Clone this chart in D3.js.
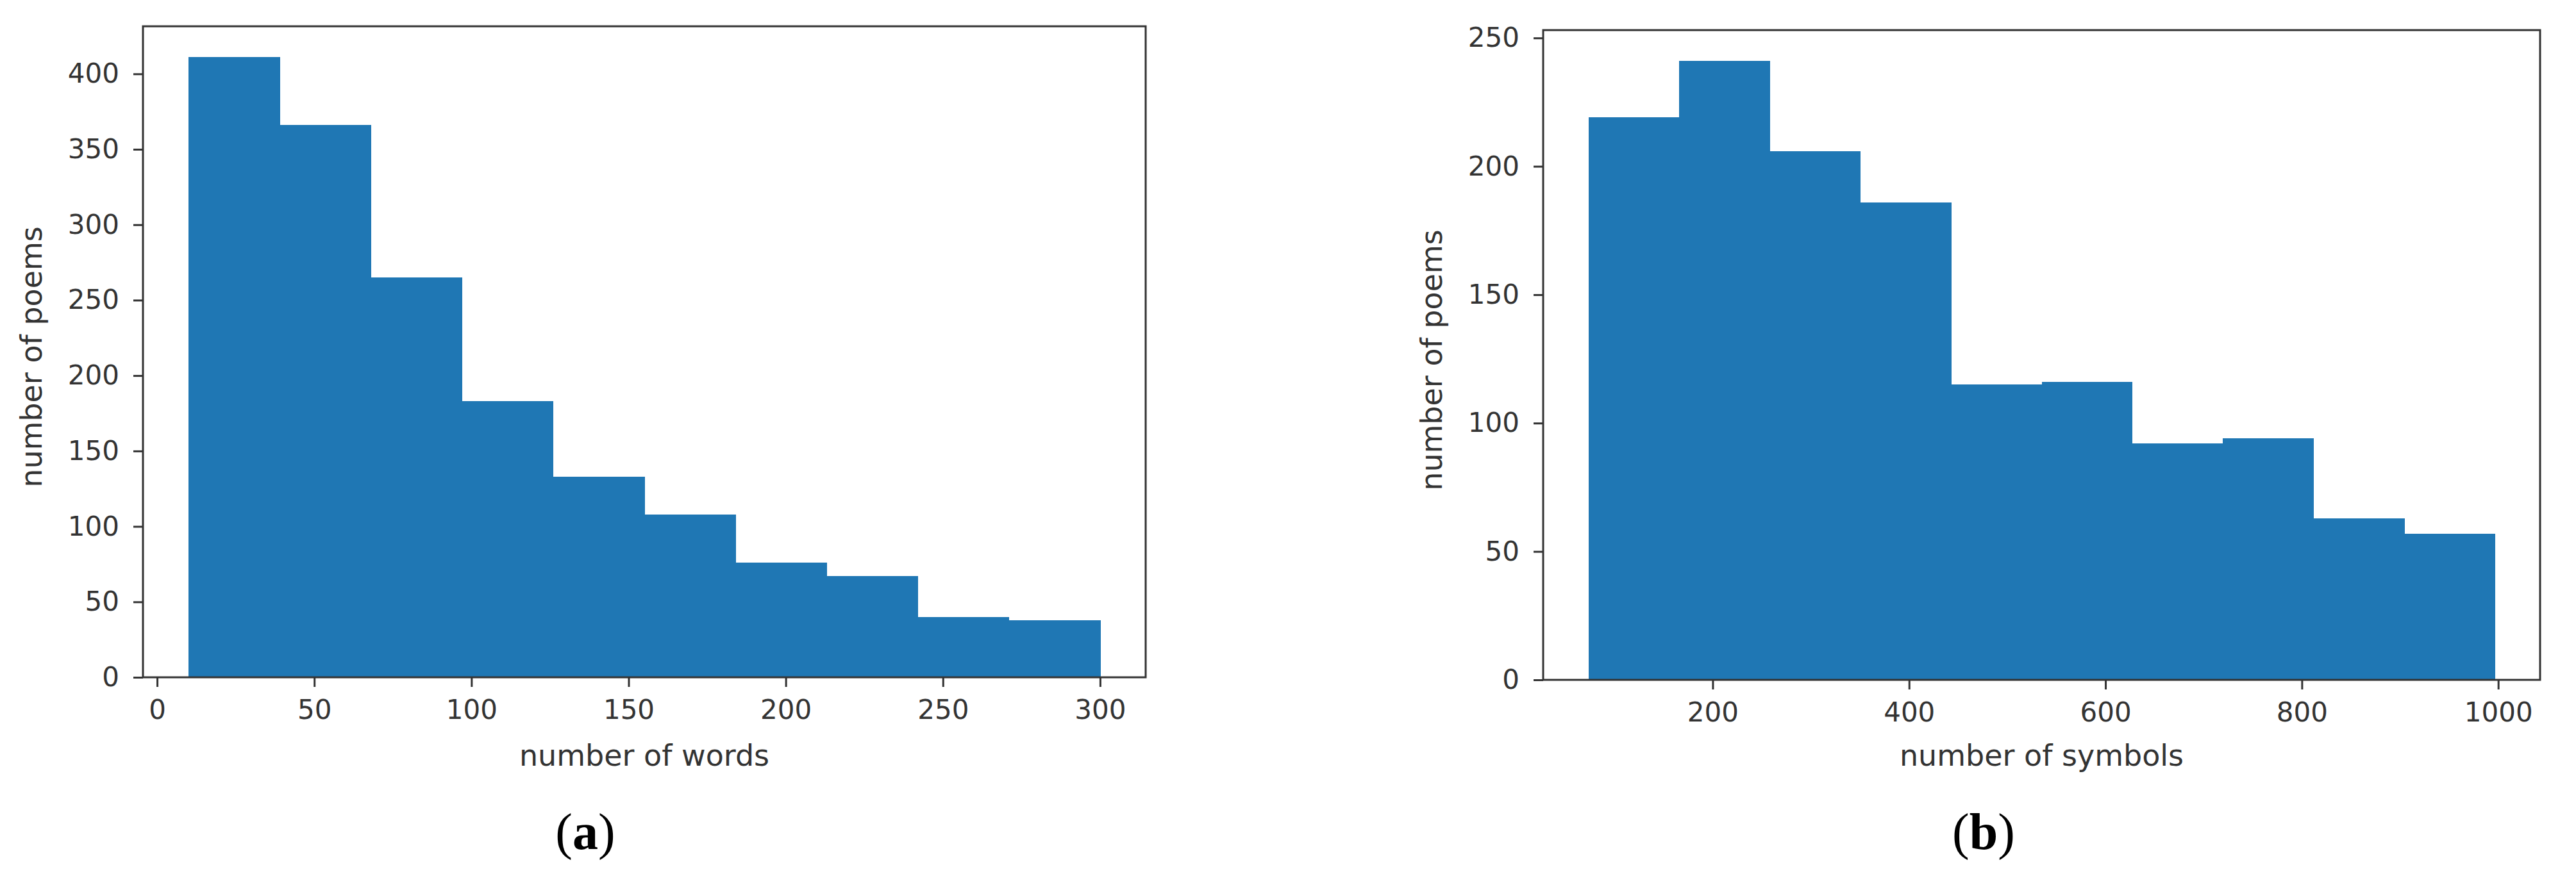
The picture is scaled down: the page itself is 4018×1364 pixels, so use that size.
<!DOCTYPE html>
<html><head><meta charset="utf-8">
<script src="https://cdn.jsdelivr.net/npm/d3@7"></script>
<style>html,body{margin:0;padding:0;background:#fff}svg{display:block}</style>
</head><body>
<svg id="chart" width="4018" height="1364"></svg>
<script>
// ---- data ----
const wordsEdges   = [10, 39, 68, 97, 126, 155, 184, 213, 242, 271, 300];
const wordsCounts  = [411, 366, 265, 183, 133, 108, 76, 67, 40, 38];
const symbolsEdges = [73.5, 165.8, 258.1, 350.4, 442.7, 535, 627.3, 719.6, 811.9, 904.2, 996.5];
const symbolsCounts= [219, 241, 206, 186, 115, 116, 92, 94, 63, 57];
const wordsXTicks   = [0, 50, 100, 150, 200, 250, 300];
const wordsYTicks   = [0, 50, 100, 150, 200, 250, 300, 350, 400];
const symbolsXTicks = [200, 400, 600, 800, 1000];
const symbolsYTicks = [0, 50, 100, 150, 200, 250];
const panelLabels = ["a", "b"];
const xLabels = ["number of words", "number of symbols"];
const yLabel = "number of poems";

const svg = d3.select("#chart");
const BAR = "#1f77b4", INK = "#333";
const fmt = d3.format("d");

function panel(cfg) {
  const {edges, counts, xTicks, yTicks, box, xLabel, label, labelX, yLabX} = cfg;
  const lo = edges[0], hi = edges[edges.length - 1], m = (hi - lo) * 0.05;
  const x = d3.scaleLinear().domain([lo - m, hi + m]).range([box.x0, box.x1]);
  const y = d3.scaleLinear().domain([0, d3.max(counts) * 1.05]).range([box.y1, box.y0]);
  const g = svg.append("g");
  g.selectAll("rect.bar").data(counts).join("rect")
    .attr("class", "bar")
    .attr("x", (d, i) => x(edges[i]))
    .attr("width", (d, i) => x(edges[i + 1]) - x(edges[i]) + 0.6)
    .attr("y", d => y(d))
    .attr("height", d => y(0) - y(d))
    .attr("fill", BAR)
    .attr("shape-rendering", "crispEdges");
  const ax = g.append("g").attr("transform", `translate(0,${box.y1})`)
    .call(d3.axisBottom(x).tickValues(xTicks).tickFormat(fmt).tickSize(15).tickSizeOuter(0).tickPadding(20));
  const ay = g.append("g").attr("transform", `translate(${box.x0},0)`)
    .call(d3.axisLeft(y).tickValues(yTicks).tickFormat(fmt).tickSize(15).tickSizeOuter(0).tickPadding(22));
  [ax, ay].forEach(a => {
    a.select(".domain").remove();
    a.selectAll(".tick line").attr("stroke", INK).attr("stroke-width", 3);
    a.selectAll(".tick text").attr("fill", INK)
      .style("font-family", "DejaVu Sans").style("font-size", "42px");
  });
  g.append("rect").attr("x", box.x0).attr("y", box.y0)
    .attr("width", box.x1 - box.x0).attr("height", box.y1 - box.y0)
    .attr("fill", "none").attr("stroke", INK).attr("stroke-width", 3);
  g.append("text").attr("x", (box.x0 + box.x1) / 2).attr("y", 1195)
    .attr("text-anchor", "middle").attr("fill", INK)
    .style("font-family", "DejaVu Sans").style("font-size", "46px").text(xLabel);
  g.append("text").attr("transform", `translate(${yLabX},${(box.y0 + box.y1) / 2 + 8}) rotate(-90)`)
    .attr("text-anchor", "middle").attr("fill", INK)
    .style("font-family", "DejaVu Sans").style("font-size", "46px").text(yLabel);
  const t = g.append("text").attr("x", labelX).attr("y", 1325).attr("text-anchor", "middle")
    .attr("fill", "#000").style("font-family", "Liberation Serif").style("font-size", "80px");
  t.append("tspan").text("(");
  t.append("tspan").attr("font-weight", "bold").text(label);
  t.append("tspan").text(")");
}

panel({edges: wordsEdges, counts: wordsCounts, xTicks: wordsXTicks, yTicks: wordsYTicks,
  box: {x0: 223, x1: 1787, y0: 41, y1: 1057}, xLabel: xLabels[0], label: panelLabels[0],
  labelX: 913, yLabX: 65});
panel({edges: symbolsEdges, counts: symbolsCounts, xTicks: symbolsXTicks, yTicks: symbolsYTicks,
  box: {x0: 2407, x1: 3962, y0: 47, y1: 1061}, xLabel: xLabels[1], label: panelLabels[1],
  labelX: 3094, yLabX: 2249});
</script>
</body></html>
